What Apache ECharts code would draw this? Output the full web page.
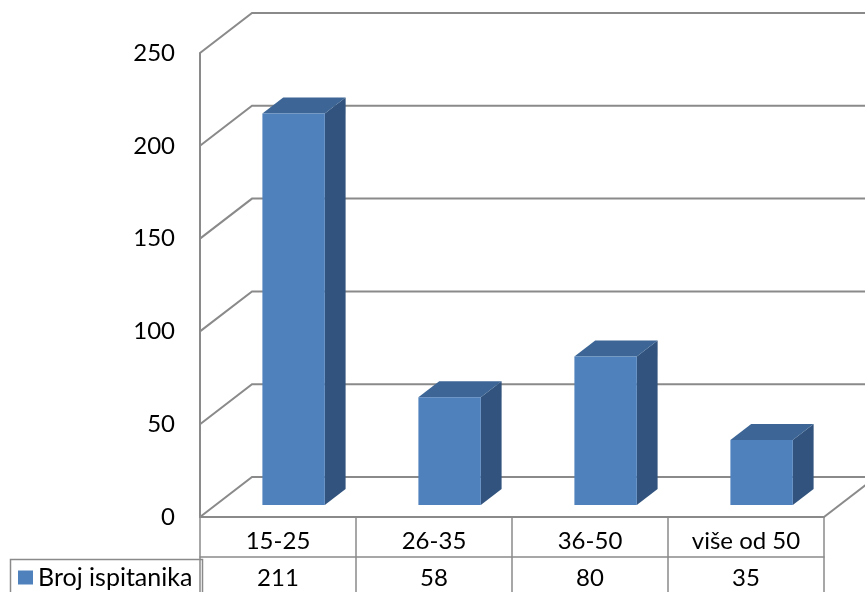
<!DOCTYPE html>
<html>
<head>
<meta charset="utf-8">
<script src="https://cdn.jsdelivr.net/npm/echarts@6/dist/echarts.min.js"></script>
<style>
  html, body { margin: 0; padding: 0; background: #ffffff; }
  #chart { width: 865px; height: 592px; }
</style>
</head>
<body>
<div id="chart"></div>
<script>
// Age groups and number of respondents per group
const categories = ['15-25', '26-35', '36-50', 'više od 50'];
const respondents = [211, 58, 80, 35];
const seriesName = 'Broj ispitanika';
const yTicks = [0, 50, 100, 150, 200, 250];

// Perspective offset of the back wall relative to the front plane
const DEPTH_X = 52;
const DEPTH_Y = 40;
// Bar occupies this slice of the floor depth (0 = front, 1 = back)
const BAR_FRONT = 0.3;
const BAR_BACK = 0.7;
const BAR_WIDTH = 0.4; // share of a category band

const FONT = 'Lato, "Noto Sans", sans-serif';
const FONT_SIZE = 24;
const LINE = '#8a8a8a';
const FRONT_FILL = '#4F81BD';
const TOP_FILL = '#3D6696';
const SIDE_FILL = '#31537D';

const chart = echarts.init(document.getElementById('chart'), null, { renderer: 'canvas' });

// Side wall, back wall and floor lines at every value tick
function renderWalls(params, api) {
  const cs = params.coordSys;
  const v = api.value(0);
  const y = api.coord([0, v])[1];
  const left = cs.x;
  const right = cs.x + cs.width;
  const children = [{
    type: 'polyline',
    shape: { points: [[left, y], [left + DEPTH_X, y - DEPTH_Y], [right + DEPTH_X + 60, y - DEPTH_Y]] },
    style: { stroke: LINE, lineWidth: 2, fill: null }
  }];
  if (v === 0) {
    // right edge of the floor
    children.push({
      type: 'line',
      shape: { x1: right, y1: y, x2: right + DEPTH_X, y2: y - DEPTH_Y },
      style: { stroke: LINE, lineWidth: 2 }
    });
  }
  return { type: 'group', children: children };
}

// A 3D column: front, side and top faces
function renderBar(params, api) {
  const idx = api.value(0);
  const val = api.value(1);
  const top = api.coord([idx, val]);
  const base = api.coord([idx, 0]);
  const band = api.size([1, 0])[0];
  const w = band * BAR_WIDTH;
  const fx = BAR_FRONT * DEPTH_X, fy = BAR_FRONT * DEPTH_Y;
  const dx = (BAR_BACK - BAR_FRONT) * DEPTH_X, dy = (BAR_BACK - BAR_FRONT) * DEPTH_Y;
  const x0 = top[0] - w / 2 + fx;
  const x1 = x0 + w;
  const yt = top[1] - fy;
  const yb = base[1] - fy;
  return {
    type: 'group',
    children: [
      {
        type: 'polygon',
        shape: { points: [[x1, yt], [x1 + dx, yt - dy], [x1 + dx, yb - dy], [x1, yb]] },
        style: { fill: SIDE_FILL }
      },
      {
        type: 'polygon',
        shape: { points: [[x0, yt], [x1, yt], [x1 + dx, yt - dy], [x0 + dx, yt - dy]] },
        style: { fill: TOP_FILL }
      },
      {
        type: 'rect',
        shape: { x: x0, y: yt, width: w, height: yb - yt },
        style: { fill: FRONT_FILL }
      }
    ]
  };
}

chart.setOption({
  animation: false,
  backgroundColor: '#ffffff',
  grid: { left: 200, right: 41, top: 53, bottom: 75, containLabel: false },
  legend: {
    data: [{ name: seriesName, icon: 'rect' }],
    left: 18,
    top: 565,
    padding: 0,
    itemWidth: 15,
    itemHeight: 14,
    selectedMode: false,
    textStyle: { fontFamily: FONT, fontSize: FONT_SIZE + 1, color: '#000000' }
  },
  xAxis: [
    {
      type: 'category',
      data: categories,
      position: 'bottom',
      axisLine: { show: true, lineStyle: { color: LINE, width: 2 } },
      axisTick: { show: true, alignWithLabel: false, length: 80, lineStyle: { color: LINE, width: 1.5 } },
      axisLabel: { fontFamily: FONT, fontSize: FONT_SIZE, color: '#000000', margin: 12, lineHeight: 25 },
      splitLine: { show: false }
    },
    {
      type: 'category',
      data: respondents.map(String),
      position: 'bottom',
      offset: 40,
      axisLine: { show: true, lineStyle: { color: LINE, width: 1.5 } },
      axisTick: { show: false },
      axisLabel: { fontFamily: FONT, fontSize: FONT_SIZE, color: '#000000', margin: 9, lineHeight: 25 },
      splitLine: { show: false }
    }
  ],
  yAxis: {
    type: 'value',
    min: 0,
    max: 250,
    interval: 50,
    axisLine: { show: true, lineStyle: { color: LINE, width: 2 } },
    axisTick: { show: false },
    splitLine: { show: false },
    axisLabel: { fontFamily: FONT, fontSize: FONT_SIZE, color: '#000000', margin: 25 }
  },
  graphic: [
    {
      type: 'rect',
      left: 8,
      top: 557,
      shape: { width: 192, height: 60 },
      style: { fill: null, stroke: LINE, lineWidth: 1.5 },
      z: 10
    }
  ],
  series: [
    {
      type: 'custom',
      name: 'walls',
      xAxisIndex: 0,
      data: yTicks.map(v => [v]),
      encode: { y: 0 },
      renderItem: renderWalls,
      silent: true,
      z: 1
    },
    {
      type: 'custom',
      name: seriesName,
      xAxisIndex: 0,
      itemStyle: { color: FRONT_FILL },
      data: respondents.map((v, i) => [i, v]),
      encode: { x: 0, y: 1 },
      renderItem: renderBar,
      z: 5
    }
  ]
});
</script>
</body>
</html>
